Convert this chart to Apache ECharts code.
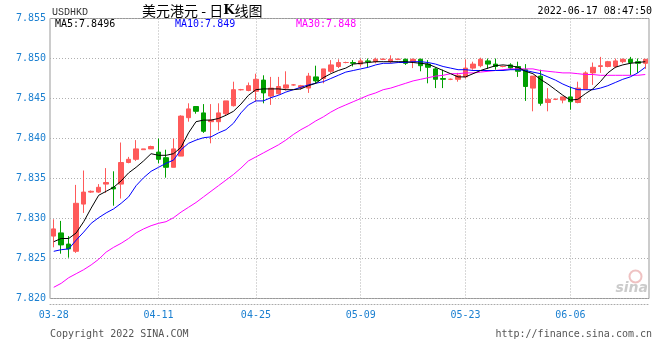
<!DOCTYPE html>
<html><head><meta charset="utf-8">
<script src="https://cdn.jsdelivr.net/npm/echarts@6/dist/echarts.min.js"></script>
<style>html,body{margin:0;padding:0;background:#fff}#c{width:660px;height:360px}</style>
</head><body><div id="c"></div>
<script>
const dates = ['03-28','03-29','03-30','03-31','04-01','04-02','04-03','04-04','04-05','04-06',
'04-07','04-08','04-09','04-10','04-11','04-12','04-13','04-14','04-15','04-17',
'04-18','04-19','04-20','04-21','04-22','04-23','04-24','04-25','04-26','04-27',
'04-28','04-29','04-30','05-01','05-02','05-03','05-04','05-05','05-06','05-07',
'05-08','05-09','05-10','05-11','05-12','05-13','05-14','05-15','05-16','05-17',
'05-18','05-19','05-20','05-21','05-22','05-23','05-24','05-25','05-26','05-27',
'05-28','05-29','05-30','05-31','06-01','06-02','06-03','06-04','06-05','06-06',
'06-08','06-09','06-10','06-11','06-12','06-13','06-14','06-15','06-16','06-17'];

const tickLabels = ['03-28','04-11','04-25','05-09','05-23','06-06'];

const opens = [7.8278,7.8282,7.8268,7.8259,7.8318,7.8333,7.8333,7.8343,7.8339,7.8343,
7.8370,7.8374,7.8386,7.8387,7.8383,7.8376,7.8364,7.8378,7.8426,7.8440,
7.8432,7.8421,7.8421,7.8431,7.8441,7.8461,7.8460,7.8459,7.8473,7.8453,
7.8456,7.8463,7.8467,7.8464,7.8463,7.8477,7.8475,7.8484,7.8490,7.8495,
7.8495,7.8493,7.8497,7.8496,7.8499,7.8496,7.8499,7.8499,7.8496,7.8499,
7.8493,7.8487,7.8475,7.8474,7.8474,7.8477,7.8488,7.8491,7.8497,7.8493,
7.8490,7.8492,7.8490,7.8486,7.8463,7.8478,7.8445,7.8449,7.8448,7.8452,
7.8445,7.8462,7.8482,7.8490,7.8490,7.8490,7.8496,7.8499,7.8496,7.8494];

const closes = [7.8287,7.8267,7.8262,7.8319,7.8333,7.8334,7.8339,7.8345,7.8337,7.8370,
7.8374,7.8387,7.8387,7.8390,7.8374,7.8364,7.8387,7.8428,7.8437,7.8434,
7.8409,7.8423,7.8432,7.8447,7.8461,7.8461,7.8466,7.8474,7.8457,7.8463,
7.8465,7.8467,7.8467,7.8466,7.8478,7.8472,7.8487,7.8492,7.8495,7.8495,
7.8494,7.8497,7.8496,7.8499,7.8499,7.8499,7.8499,7.8494,7.8499,7.8491,
7.8489,7.8474,7.8474,7.8474,7.8479,7.8488,7.8493,7.8499,7.8493,7.8490,
7.8490,7.8488,7.8484,7.8465,7.8478,7.8444,7.8449,7.8449,7.8452,7.8446,
7.8463,7.8482,7.8489,7.8491,7.8496,7.8497,7.8499,7.8495,7.8494,7.8499];

const lows = [7.8264,7.8256,7.8251,7.8257,7.8307,7.8332,7.8332,7.8332,7.8316,7.8325,
7.8369,7.8372,7.8386,7.8387,7.8369,7.8351,7.8364,7.8378,7.8421,7.8431,
7.8407,7.8394,7.8410,7.8429,7.8440,7.8460,7.8459,7.8446,7.8444,7.8442,
7.8455,7.8460,7.8466,7.8461,7.8457,7.8469,7.8469,7.8482,7.8488,7.8494,
7.8490,7.8490,7.8489,7.8494,7.8498,7.8494,7.8498,7.8492,7.8488,7.8484,
7.8469,7.8463,7.8463,7.8473,7.8471,7.8475,7.8486,7.8489,7.8487,7.8486,
7.8489,7.8486,7.8477,7.8447,7.8434,7.8441,7.8434,7.8448,7.8444,7.8436,
7.8444,7.8461,7.8467,7.8482,7.8489,7.8488,7.8494,7.8479,7.8482,7.8487];

const highs = [7.8299,7.8297,7.8278,7.8342,7.8360,7.8335,7.8343,7.8363,7.8359,7.8395,
7.8377,7.8398,7.8387,7.8391,7.8400,7.8386,7.8400,7.8429,7.8444,7.8440,
7.8443,7.8443,7.8444,7.8447,7.8471,7.8462,7.8470,7.8481,7.8479,7.8477,
7.8477,7.8484,7.8468,7.8467,7.8482,7.8491,7.8487,7.8498,7.8499,7.8496,
7.8498,7.8500,7.8500,7.8501,7.8500,7.8504,7.8500,7.8500,7.8500,7.8500,
7.8498,7.8489,7.8486,7.8475,7.8482,7.8499,7.8496,7.8501,7.8500,7.8500,
7.8491,7.8494,7.8496,7.8493,7.8478,7.8486,7.8463,7.8450,7.8452,7.8465,
7.8471,7.8484,7.8495,7.8502,7.8497,7.8500,7.8500,7.8502,7.8500,7.8499];

const ma5 = [7.8271,7.8275,7.8275,7.8282,7.8296,7.8313,7.8329,7.8334,7.8339,7.8347,
7.8357,7.8364,7.8372,7.8381,7.8379,7.8379,7.8381,7.8389,7.8407,7.8421,
7.8423,7.8423,7.8425,7.8429,7.8434,7.8443,7.8454,7.8461,7.8462,7.8462,
7.8462,7.8461,7.8461,7.8462,7.8466,7.8469,7.8476,7.8481,7.8485,7.8488,
7.8493,7.8494,7.8495,7.8496,7.8496,7.8496,7.8496,7.8496,7.8495,7.8494,
7.8493,7.8489,7.8485,7.8481,7.8477,7.8477,7.8481,7.8485,7.8488,7.8491,
7.8492,7.8491,7.8489,7.8484,7.8481,7.8474,7.8468,7.8461,7.8454,7.8448,
7.8449,7.8456,7.8462,7.8471,7.8482,7.8489,7.8492,7.8494,7.8495,7.8496];

const ma10 = [7.8259,7.8261,7.8262,7.8273,7.8283,7.8294,7.8301,7.8307,7.8312,7.8319,
7.8327,7.8341,7.8351,7.8359,7.8364,7.8369,7.8373,7.8386,7.8394,7.8398,
7.8401,7.8402,7.8407,7.8411,7.8419,7.8432,7.8442,7.8447,7.8447,7.8451,
7.8454,7.8458,7.8461,7.8464,7.8467,7.8469,7.8471,7.8475,7.8479,7.8483,
7.8485,7.8487,7.8489,7.8492,7.8494,7.8494,7.8495,7.8495,7.8496,7.8496,
7.8495,7.8493,7.8490,7.8488,7.8486,7.8486,7.8485,7.8485,7.8485,7.8485,
7.8485,7.8486,7.8486,7.8485,7.8483,7.8481,7.8477,7.8473,7.8468,7.8464,
7.8461,7.8461,7.8461,7.8463,7.8466,7.8470,7.8474,7.8477,7.8482,7.8489];

const ma30 = [7.8214,7.8219,7.8226,7.8231,7.8236,7.8242,7.8249,7.8258,7.8264,7.8269,
7.8275,7.8282,7.8287,7.8291,7.8294,7.8296,7.8301,7.8308,7.8314,7.8320,
7.8327,7.8334,7.8341,7.8348,7.8355,7.8363,7.8372,7.8377,7.8382,7.8387,
7.8392,7.8398,7.8405,7.8411,7.8416,7.8422,7.8427,7.8433,7.8438,7.8442,
7.8446,7.8450,7.8454,7.8457,7.8461,7.8463,7.8466,7.8469,7.8472,7.8474,
7.8476,7.8478,7.8479,7.8481,7.8481,7.8482,7.8482,7.8483,7.8484,7.8485,
7.8486,7.8487,7.8487,7.8487,7.8487,7.8485,7.8484,7.8483,7.8482,7.8482,
7.8481,7.8480,7.8480,7.8479,7.8479,7.8479,7.8479,7.8479,7.8479,7.8480];

const latest = { ma5: '7.8496', ma10: '7.849', ma30: '7.848' };

const kData = dates.map((d, i) => [opens[i], closes[i], lows[i], highs[i]]);

const MONO = 'DejaVu Sans Mono';
const BLUE_LBL = '#1a7fd0';
const GRID_C = '#b0b0b0';

const chart = echarts.init(document.getElementById('c'), null, { renderer: 'canvas' });
chart.setOption({
  animation: false,
  backgroundColor: '#ffffff',
  grid: { left: 50, right: 11, top: 18.5, bottom: 61.5, show: true, borderColor: '#999', borderWidth: 1,
          containLabel: false, outerBoundsMode: 'none' },
  xAxis: {
    type: 'category', data: dates, boundaryGap: true, offset: 6,
    axisLine: { show: true, lineStyle: { color: '#aaa', type: [1, 2], width: 1 } },
    axisTick: { show: false },
    axisLabel: { interval: (i, v) => tickLabels.includes(v), color: BLUE_LBL, fontFamily: MONO, fontSize: 10, margin: 6 },
    splitLine: { show: true, alignWithLabel: true, interval: (i, v) => i > 0 && tickLabels.includes(v),
                 lineStyle: { color: GRID_C, type: [1, 2], width: 1 } }
  },
  yAxis: {
    type: 'value', min: 7.82, max: 7.855, interval: 0.005, scale: true,
    axisLine: { show: false }, axisTick: { show: false },
    axisLabel: { color: BLUE_LBL, fontFamily: MONO, fontSize: 10, margin: 4, formatter: v => v.toFixed(3) },
    splitLine: { show: true, lineStyle: { color: GRID_C, type: [1, 2], width: 1 } }
  },
  series: [
    { type: 'candlestick', data: kData, barWidth: 5,
      itemStyle: { color: '#ff5a5a', color0: '#00a000', borderColor: '#ff5a5a', borderColor0: '#00a000', borderWidth: 1 } },
    { type: 'line', data: ma5, showSymbol: false, symbol: 'none', lineStyle: { color: '#000000', width: 1 }, z: 5 },
    { type: 'line', data: ma10, showSymbol: false, symbol: 'none', lineStyle: { color: '#0000ff', width: 1 }, z: 4 },
    { type: 'line', data: ma30, showSymbol: false, symbol: 'none', lineStyle: { color: '#ff00ff', width: 1 }, z: 3 }
  ],
  graphic: [
    { type: 'text', left: 52, top: 7, style: { text: 'USDHKD', font: '10px "Liberation Mono"', fill: '#333' } },
    { type: 'text', left: 142, top: 4, style: {
        text: '美元港元 - 日{k|K}线图', font: '14px "Noto Sans CJK SC"', fill: '#000',
        rich: { k: { fontFamily: 'DejaVu Serif', fontWeight: 'bold', fontSize: 13, fill: '#000' } } } },
    { type: 'text', right: 8, top: 6, style: { text: '2022-06-17 08:47:50', font: '10px "' + MONO + '"', fill: '#000' } },
    { type: 'text', left: 55, top: 19, style: { text: 'MA5:' + latest.ma5, font: '10px "' + MONO + '"', fill: '#000' } },
    { type: 'text', left: 175, top: 19, style: { text: 'MA10:' + latest.ma10, font: '10px "' + MONO + '"', fill: '#0000ff' } },
    { type: 'text', left: 296, top: 19, style: { text: 'MA30:' + latest.ma30, font: '10px "' + MONO + '"', fill: '#ff00ff' } },
    { type: 'text', left: 50, top: 329, style: { text: 'Copyright 2022 SINA.COM', font: '10px "' + MONO + '"', fill: '#555' } },
    { type: 'text', right: 8, top: 329, style: { text: 'http://finance.sina.com.cn', font: '10px "' + MONO + '"', fill: '#555' } },
    { type: 'circle', right: 16, top: 268, shape: { r: 6 }, style: { fill: 'none', stroke: 'rgba(220,120,120,0.45)', lineWidth: 2 } },
    { type: 'text', right: 12, top: 281, style: { text: 'sina', font: 'italic bold 14px "DejaVu Sans"', fill: 'rgba(140,140,140,0.45)' } }
  ]
});
</script>
</body></html>
